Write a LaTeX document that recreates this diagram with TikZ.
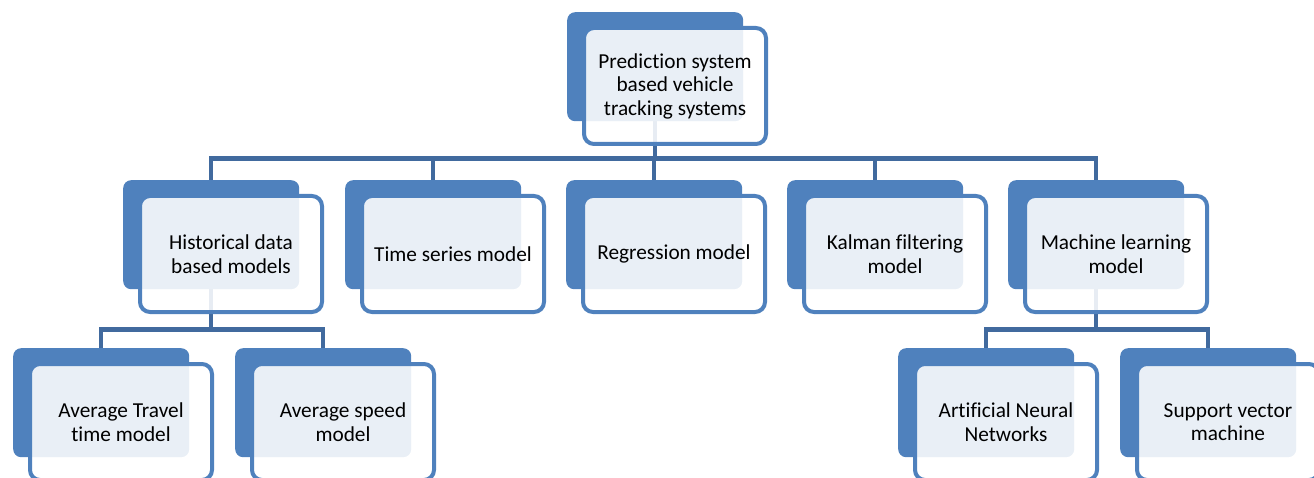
\documentclass[tikz,border=0pt]{standalone}
\usepackage{fontspec}
\setmainfont{Carlito}[Ligatures=NoCommon]
\usetikzlibrary{calc}
\definecolor{boxblue}{RGB}{79,129,189}
\definecolor{linkblue}{RGB}{65,106,158}
\pgfdeclarelayer{links}
\pgfsetlayers{links,main}
\tikzset{
  backbox/.style={fill=boxblue, draw=none, rounded corners=8pt,
    minimum width=176pt, minimum height=109pt, inner sep=0pt, anchor=north west},
  frontbox/.style={draw=boxblue, line width=4pt, fill=white, fill opacity=0.88,
    draw opacity=1, text opacity=1, rounded corners=10pt,
    minimum width=182pt, minimum height=116pt, inner sep=0pt,
    align=center, font=\fontsize{21.3}{23.5}\selectfont},
  link/.style={draw=linkblue, line width=4.5pt}
}
% #1 name, #2/#3 top-left of the shaded back plate, #4 label
\newcommand\tierbox[4]{%
  \node[backbox] (#1-b) at (#2,#3) {};
  \node[frontbox] (#1) at ($(#1-b.north west)+(108,74)$) {#4};
}
\begin{document}
\begin{tikzpicture}[x=1pt,y=-1pt]
\useasboundingbox (0,0) rectangle (1314,478);
% root
\tierbox{root}{567}{12}{Prediction system\\based vehicle\\tracking systems}
% second tier
\tierbox{hist}{123}{180}{Historical data\\based models}
\tierbox{ts}{345}{180}{Time series model}
\tierbox{reg}{566}{180}{Regression model}
\tierbox{kal}{787}{180}{Kalman filtering\\model}
\tierbox{ml}{1008}{180}{Machine learning\\model}
% third tier
\tierbox{att}{13}{348}{Average Travel\\time model}
\tierbox{asp}{235}{348}{Average speed\\model}
\tierbox{ann}{898}{348}{Artificial Neural\\Networks}
\tierbox{svm}{1120}{348}{Support vector\\machine}
% elbow connectors underneath the boxes
\begin{pgfonlayer}{links}
  \foreach \c in {hist,ts,reg,kal,ml}
    \draw[link] (root-b.south) -- ($(root-b.south)+(0,37)$) -| (\c-b.north);
  \foreach \c in {att,asp}
    \draw[link] (hist-b.south) -- ($(hist-b.south)+(0,40)$) -| (\c-b.north);
  \foreach \c in {ann,svm}
    \draw[link] (ml-b.south) -- ($(ml-b.south)+(0,40)$) -| (\c-b.north);
\end{pgfonlayer}
\end{tikzpicture}
\end{document}
